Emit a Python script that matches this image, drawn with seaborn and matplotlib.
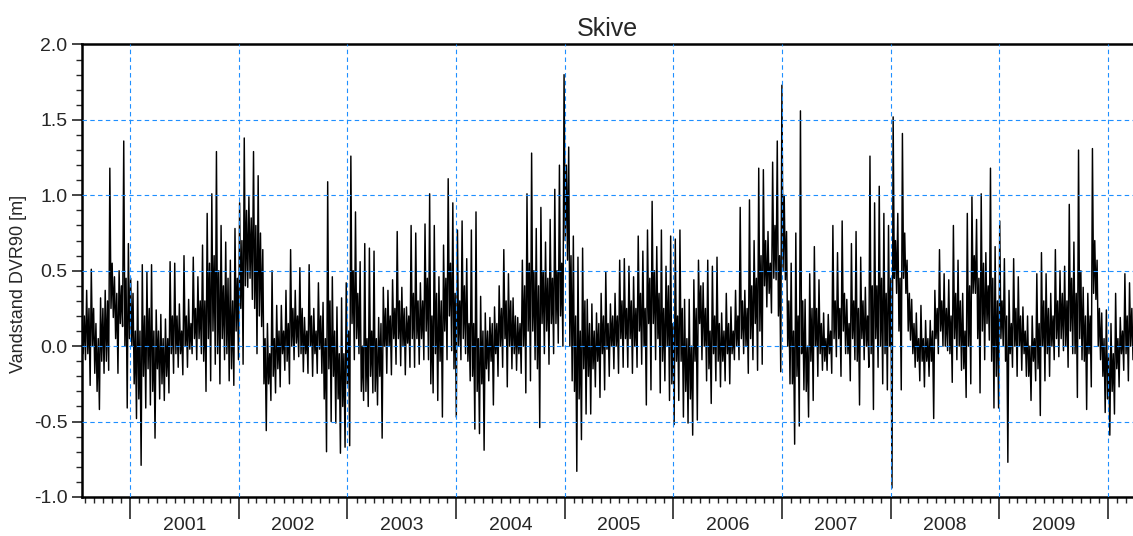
import numpy as np
import pandas as pd
import matplotlib
matplotlib.use('Agg')
import matplotlib.pyplot as plt
import matplotlib.dates as mdates
from matplotlib.ticker import MultipleLocator, FormatStrFormatter
import seaborn as sns

# Skive water level [m DVR90] per half month:
# hi / lo = extreme spikes, chi / clo = top / bottom of the dense core band
hi_2000 = [0.24, 0.37, 0.51, 0.15, 0.32, 0.37, 1.18, 0.46, 0.50, 1.36, 0.68]
lo_2000 = [-0.09, -0.26, -0.18, -0.42, -0.18, -0.16, 0.19, -0.18, 0.13, -0.41, 0.00]
chi_2000 = [0.20, 0.25, 0.25, 0.05, 0.25, 0.30, 0.55, 0.35, 0.40, 0.45, 0.45]
clo_2000 = [-0.05, -0.05, 0.00, -0.30, -0.10, -0.10, 0.25, 0.05, 0.15, 0.00, 0.05]

hi_2001 = [0.35, 0.43, 0.54, 0.49, 0.54, 0.24, 0.21, 0.18, 0.56, 0.55, 0.28, 0.60,
           0.31, 0.59, 0.46, 0.67, 0.88, 1.01, 1.29, 0.80, 0.69, 0.57, 0.78]
lo_2001 = [-0.48, -0.79, -0.41, -0.39, -0.61, -0.35, -0.36, -0.31, -0.18, -0.14, -0.19, -0.14,
           -0.05, -0.09, -0.05, -0.30, -0.23, -0.12, -0.25, -0.09, -0.23, -0.26, -0.09]
chi_2001 = [0.10, 0.10, 0.20, 0.25, 0.10, 0.10, 0.05, 0.05, 0.20, 0.20, 0.10, 0.20,
            0.15, 0.25, 0.30, 0.30, 0.55, 0.60, 0.50, 0.40, 0.45, 0.30, 0.45]
clo_2001 = [-0.25, -0.35, -0.20, -0.15, -0.30, -0.15, -0.25, -0.20, -0.05, -0.05, -0.05, 0.00,
            -0.02, 0.05, 0.05, -0.10, 0.05, 0.10, -0.05, 0.05, -0.05, -0.15, 0.10]

hi_2002 = [0.95, 1.38, 0.99, 1.29, 1.13, 0.64, 0.15, 0.50, 0.27, 0.27, 0.37, 0.64,
           0.37, 0.52, 0.19, 0.54, 0.25, 0.42, 0.29, 1.09, 0.46, 0.26, 0.32, 0.42]
lo_2002 = [-0.12, 0.39, 0.31, -0.05, 0.13, -0.56, -0.36, -0.31, -0.27, -0.16, -0.25, -0.09,
           -0.07, -0.17, -0.18, -0.20, -0.18, -0.18, -0.70, -0.50, -0.51, -0.71, -0.67, -0.66]
chi_2002 = [0.70, 0.90, 0.85, 0.80, 0.75, 0.05, -0.05, 0.05, 0.10, 0.10, 0.15, 0.25,
            0.20, 0.25, 0.10, 0.20, 0.10, 0.20, 0.05, 0.30, 0.10, -0.05, -0.05, 0.10]
clo_2002 = [0.25, 0.40, 0.45, 0.25, 0.20, -0.25, -0.25, -0.20, -0.15, -0.05, -0.10, 0.00,
            0.02, -0.05, -0.05, 0.00, -0.05, -0.02, -0.35, -0.15, -0.20, -0.35, -0.40, -0.25]

hi_2003 = [1.26, 0.89, 0.56, 0.68, 0.65, 0.63, 0.19, 0.39, 0.37, 0.44, 0.76, 0.39,
           0.26, 0.80, 0.75, 0.42, 0.81, 1.01, 0.80, 0.46, 0.67, 1.11, 0.95]
lo_2003 = [-0.09, -0.05, -0.36, -0.40, -0.31, -0.39, -0.61, -0.18, -0.19, -0.12, -0.13, -0.19,
           -0.14, -0.14, -0.12, -0.09, -0.09, -0.31, -0.36, -0.47, -0.09, -0.03, -0.47]
chi_2003 = [0.50, 0.35, 0.00, 0.05, 0.10, 0.05, 0.15, 0.25, 0.20, 0.25, 0.30, 0.25,
            0.20, 0.35, 0.30, 0.30, 0.45, 0.20, 0.35, 0.30, 0.45, 0.55, 0.35]
clo_2003 = [0.15, 0.05, -0.30, -0.30, -0.20, -0.30, -0.20, 0.00, 0.00, 0.05, 0.05, 0.00,
            0.02, 0.05, 0.05, 0.05, 0.10, -0.25, -0.05, -0.10, 0.10, 0.20, -0.15]

hi_2004 = [0.77, 0.83, 0.58, 0.77, 0.89, 0.33, 0.22, 0.19, 0.26, 0.40, 0.64, 0.48,
           0.32, 0.19, 0.57, 1.01, 1.28, 0.78, 0.92, 0.69, 0.84, 1.04, 1.20]
lo_2004 = [-0.09, -0.05, -0.23, -0.55, -0.58, -0.69, -0.23, -0.39, -0.20, -0.14, -0.27, -0.15,
           -0.16, -0.18, -0.31, -0.23, -0.09, -0.54, -0.05, -0.12, -0.05, 0.02, 0.00]
chi_2004 = [0.30, 0.40, 0.15, 0.15, 0.05, 0.10, 0.10, 0.15, 0.15, 0.25, 0.30, 0.30,
            0.20, 0.15, 0.40, 0.55, 0.50, 0.40, 0.50, 0.45, 0.45, 0.50, 0.55]
clo_2004 = [0.00, 0.05, -0.10, -0.20, -0.30, -0.25, -0.15, -0.10, -0.05, 0.00, 0.05, 0.00,
            -0.05, -0.05, 0.00, 0.10, 0.10, -0.15, 0.15, 0.10, 0.15, 0.15, 0.20]

hi_2005 = [1.80, 1.32, 0.73, 0.59, 0.65, 0.31, 0.28, 0.22, 0.35, 0.49, 0.28, 0.35,
           0.57, 0.58, 0.53, 0.46, 0.73, 0.63, 0.77, 0.96, 0.66, 0.77, 0.53]
lo_2005 = [0.57, -0.23, -0.83, -0.62, -0.45, -0.45, -0.27, -0.34, -0.29, -0.20, -0.15, -0.18,
           -0.14, -0.14, -0.18, -0.14, -0.12, -0.39, -0.29, -0.09, -0.31, -0.23, -0.36]
chi_2005 = [1.20, 0.60, 0.20, 0.10, 0.30, 0.15, 0.10, 0.15, 0.20, 0.15, 0.20, 0.20,
            0.30, 0.25, 0.30, 0.25, 0.35, 0.25, 0.45, 0.50, 0.35, 0.25, 0.40]
clo_2005 = [0.70, 0.00, -0.30, -0.35, -0.15, -0.20, -0.15, -0.10, -0.05, -0.02, 0.00, 0.00,
            0.05, 0.05, 0.05, 0.00, 0.10, 0.00, 0.15, 0.15, 0.05, -0.10, 0.00]

hi_2006 = [0.73, 0.71, 0.77, 0.31, 0.31, 0.44, 0.57, 0.42, 0.57, 0.53, 0.59, 0.22,
           0.35, 0.26, 0.37, 0.92, 0.37, 0.97, 0.70, 1.18, 1.17, 0.76, 1.22, 1.36]
lo_2006 = [-0.52, -0.36, -0.47, -0.51, -0.59, -0.49, -0.09, -0.23, -0.38, -0.23, -0.27, -0.23,
           -0.25, -0.09, -0.09, -0.05, -0.18, -0.09, -0.16, -0.12, 0.26, 0.22, 0.44, -0.17]
chi_2006 = [0.15, 0.20, 0.25, 0.05, 0.00, 0.25, 0.40, 0.25, 0.10, 0.20, 0.15, 0.10,
            0.15, 0.10, 0.20, 0.30, 0.25, 0.40, 0.45, 0.60, 0.70, 0.55, 0.80, 0.60]
clo_2006 = [-0.25, -0.10, -0.10, -0.30, -0.35, -0.10, 0.15, 0.00, -0.15, -0.05, -0.10, -0.10,
            -0.05, -0.05, 0.00, 0.05, 0.00, 0.05, 0.15, 0.10, 0.40, 0.35, 0.45, 0.20]

hi_2007 = [1.73, 0.76, 0.55, 0.75, 1.56, 0.31, 0.48, 0.66, 0.44, 0.22, 0.21, 0.80,
           0.62, 0.83, 0.31, 0.68, 0.76, 0.59, 0.39, 1.26, 0.95, 1.06, 0.88]
lo_2007 = [0.44, -0.25, -0.65, -0.53, -0.29, -0.47, -0.36, -0.20, -0.16, -0.16, -0.18, -0.07,
           -0.20, -0.05, -0.23, -0.09, -0.39, -0.09, -0.14, -0.42, -0.14, -0.25, -0.29]
chi_2007 = [1.00, 0.30, 0.10, 0.20, 0.30, 0.00, 0.25, 0.25, 0.15, 0.05, 0.10, 0.30,
            0.25, 0.35, 0.15, 0.30, 0.25, 0.30, 0.20, 0.40, 0.40, 0.45, 0.35]
clo_2007 = [0.50, 0.00, -0.25, -0.20, -0.05, -0.30, -0.10, 0.00, -0.05, -0.10, -0.05, 0.05,
            0.05, 0.10, -0.05, 0.05, -0.10, 0.05, 0.00, -0.05, 0.05, 0.00, -0.05]

hi_2008 = [0.80, 1.52, 0.88, 1.41, 0.57, 0.31, 0.22, 0.27, 0.17, 0.17, 0.37, 0.64,
           0.48, 0.44, 0.80, 0.57, 0.35, 0.88, 0.99, 0.84, 1.01, 0.62, 1.18, 0.66]
lo_2008 = [-0.94, 0.35, -0.29, 0.35, 0.04, -0.14, -0.23, -0.27, -0.20, -0.48, -0.05, 0.00,
           -0.03, -0.24, -0.09, -0.16, -0.34, -0.25, 0.35, -0.31, -0.09, 0.04, -0.41, -0.41]
chi_2008 = [0.45, 0.70, 0.45, 0.75, 0.35, 0.15, 0.05, 0.05, 0.05, 0.10, 0.25, 0.30,
            0.25, 0.20, 0.35, 0.30, 0.10, 0.40, 0.60, 0.45, 0.55, 0.40, 0.45, 0.30]
clo_2008 = [0.00, 0.45, 0.10, 0.45, 0.10, -0.05, -0.10, -0.10, -0.10, -0.10, 0.05, 0.10,
            0.00, -0.05, 0.05, 0.00, -0.15, 0.00, 0.35, 0.05, 0.10, 0.15, -0.10, -0.20]

hi_2009 = [0.83, 0.58, 0.37, 0.58, 0.46, 0.26, 0.20, 0.20, 0.48, 0.62, 0.48, 0.35,
           0.64, 0.50, 0.53, 0.94, 0.69, 1.30, 0.39, 0.35, 1.31, 0.57, 0.22]
lo_2009 = [0.00, -0.77, -0.14, -0.20, -0.16, -0.20, -0.36, -0.23, -0.46, -0.23, -0.20, -0.09,
           -0.07, -0.03, -0.14, -0.05, -0.34, -0.09, -0.42, -0.27, 0.31, -0.09, -0.44]
chi_2009 = [0.30, 0.20, 0.15, 0.25, 0.20, 0.10, 0.00, 0.05, 0.15, 0.30, 0.25, 0.20,
            0.30, 0.35, 0.30, 0.45, 0.35, 0.50, 0.20, 0.20, 0.70, 0.25, 0.05]
clo_2009 = [0.05, -0.10, -0.05, 0.00, 0.00, -0.05, -0.20, -0.10, -0.15, 0.00, -0.05, 0.00,
            0.05, 0.05, 0.00, 0.10, -0.05, 0.05, -0.10, -0.05, 0.35, 0.00, -0.20]

hi_2010 = [0.24, 0.15, 0.35, 0.19, 0.48, 0.42]
lo_2010 = [-0.59, -0.45, -0.27, -0.16, -0.23, -0.09]
chi_2010 = [-0.05, -0.05, 0.05, 0.10, 0.20, 0.25]
clo_2010 = [-0.35, -0.30, -0.15, -0.05, -0.05, 0.00]

year_labels = [2001, 2002, 2003, 2004, 2005, 2006, 2007, 2008, 2009]
t_start = pd.Timestamp('2000-07-23')
t_end = pd.Timestamp('2010-03-26')

hi = (hi_2000 + hi_2001 + hi_2002 + hi_2003 + hi_2004 + hi_2005 +
      hi_2006 + hi_2007 + hi_2008 + hi_2009 + hi_2010)
lo = (lo_2000 + lo_2001 + lo_2002 + lo_2003 + lo_2004 + lo_2005 +
      lo_2006 + lo_2007 + lo_2008 + lo_2009 + lo_2010)
chi = (chi_2000 + chi_2001 + chi_2002 + chi_2003 + chi_2004 + chi_2005 +
       chi_2006 + chi_2007 + chi_2008 + chi_2009 + chi_2010)
clo = (clo_2000 + clo_2001 + clo_2002 + clo_2003 + clo_2004 + clo_2005 +
       clo_2006 + clo_2007 + clo_2008 + clo_2009 + clo_2010)

# each half month: spike up, core bottom, core top, spike down
level = np.column_stack([hi, clo, chi, lo]).ravel()
df = pd.DataFrame({'time': pd.date_range(t_start, t_end, periods=len(level)),
                   'level': level})

sns.set_style('ticks')
plt.rcParams['font.family'] = ['Liberation Sans', 'DejaVu Sans']
plt.rcParams['axes.unicode_minus'] = False

fig = plt.figure(figsize=(11.33, 5.36), dpi=100)
ax = fig.add_axes([0.0724, 0.0728, 0.9276, 0.8442])

sns.lineplot(data=df, x='time', y='level', color='black', lw=1.05,
             estimator=None, sort=False, ax=ax, zorder=2)

ax.set_xlim(t_start, t_end)
ax.set_ylim(-1.0, 2.0)
ax.yaxis.set_major_locator(MultipleLocator(0.5))
ax.yaxis.set_minor_locator(MultipleLocator(0.1))
ax.yaxis.set_major_formatter(FormatStrFormatter('%.1f'))
ax.xaxis.set_major_locator(mdates.YearLocator())
ax.xaxis.set_minor_locator(mdates.MonthLocator())
ax.xaxis.set_major_formatter(plt.NullFormatter())

ax.tick_params(axis='y', which='major', length=7, width=1.2, labelsize=14, direction='out')
ax.tick_params(axis='y', which='minor', length=4.5, width=1.0, direction='out')
ax.tick_params(axis='x', which='major', length=16, width=1.2, direction='out')
ax.tick_params(axis='x', which='minor', length=4.5, width=1.0, direction='out')

for y in [-0.5, 0.0, 0.5, 1.0, 1.5]:
    ax.axhline(y, color='#1E8FFF', lw=0.8, ls=(0, (4, 3)), zorder=3)
for yr in year_labels + [2010]:
    ax.axvline(pd.Timestamp(f'{yr}-01-01'), color='#1E8FFF', lw=0.8, ls=(0, (4, 3)), zorder=3)

for yr in year_labels:
    ax.text(pd.Timestamp(f'{yr}-07-02'), -0.062, str(yr), transform=ax.get_xaxis_transform(),
            ha='center', va='center', fontsize=14)

for side in ['top', 'left', 'bottom']:
    ax.spines[side].set_linewidth(1.8)
    ax.spines[side].set_color('black')
ax.spines['right'].set_visible(False)

ax.set_xlabel('')
ax.set_ylabel('Vandstand DVR90 [m]', fontsize=13)
ax.yaxis.set_label_coords(-0.052, 0.47)
ax.set_title('Skive', fontsize=18, pad=6)

fig.savefig('out.png', dpi=100)
